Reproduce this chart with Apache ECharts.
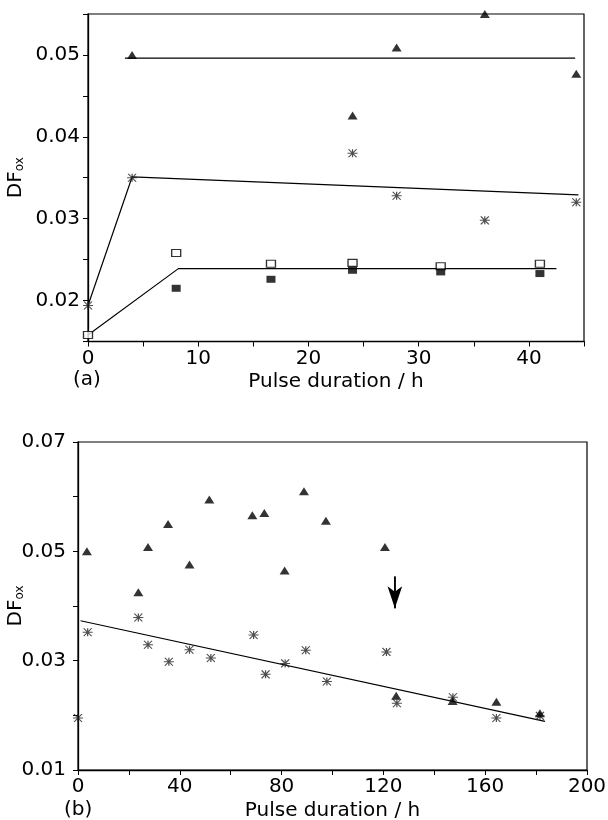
<!DOCTYPE html>
<html>
<head>
<meta charset="utf-8">
<script src="https://cdn.jsdelivr.net/npm/echarts@6/dist/echarts.min.js"></script>
<style>
  html, body { margin: 0; padding: 0; background: #fff; }
  #main { width: 608px; height: 820px; }
</style>
</head>
<body>
<div id="main"></div>
<script>
// ---- panel (a) data ----
var aTriX = [4, 24, 28, 36, 44.3];
var aTriY = [0.0500, 0.0426, 0.0509, 0.0550, 0.0477];
var aStarX = [0, 4, 24, 28, 36, 44.3];
var aStarY = [0.0194, 0.0350, 0.0380, 0.0328, 0.0298, 0.0320];
var aOpenX = [0, 8, 16.6, 24, 32, 41];
var aOpenY = [0.0158, 0.0258, 0.0245, 0.0246, 0.0242, 0.0245];
var aFillX = [8, 16.6, 24, 32, 41];
var aFillY = [0.0215, 0.0226, 0.0237, 0.0235, 0.0233];
// fitted lines (a)
var aTriLineX = [3.35, 44.2];
var aTriLineY = [0.0496, 0.0496];
var aStarLineX = [0, 4, 44.5];
var aStarLineY = [0.0194, 0.0351, 0.0329];
var aSqLineX = [0, 8.2, 42.5];
var aSqLineY = [0.0158, 0.0239, 0.0239];

// ---- panel (b) data ----
var bTriX = [3.5, 23.7, 27.5, 35.4, 43.8, 51.6, 68.5, 73.2, 81.2, 88.8, 97.4, 120.6, 125, 147.2, 164.4, 181.5];
var bTriY = [0.0500, 0.0425, 0.0508, 0.0550, 0.0476, 0.0595, 0.0566, 0.0570, 0.0465, 0.0610, 0.0556, 0.0508, 0.0236, 0.0226, 0.0225, 0.0204];
var bStarX = [0, 3.8, 23.7, 27.5, 35.7, 43.8, 52.2, 69, 73.7, 81.4, 89.5, 97.8, 121.2, 125.3, 147.3, 164.4, 181.5];
var bStarY = [0.0195, 0.0352, 0.0379, 0.0329, 0.0298, 0.0320, 0.0305, 0.0347, 0.0275, 0.0295, 0.0319, 0.0262, 0.0316, 0.0222, 0.0233, 0.0195, 0.0199];
var bLineX = [1, 183.5];
var bLineY = [0.0373, 0.0189];
var bArrowX = [124.5, 124.5];
var bArrowY = [0.0454, 0.0396];

var FONT = 'DejaVu Sans';
var STAR = 'path://M0,4 L10,4 M1,0 L9,8 M9,0 L1,8 M5,0 L5,8';

function zip(xs, ys) {
    var out = [];
    for (var i = 0; i < xs.length; i++) out.push([xs[i], ys[i]]);
    return out;
}

function xAxisOf(idx, min, max, interval, gap) {
    return {
        type: 'value', gridIndex: idx, min: min, max: max, interval: interval,
        name: 'Pulse duration / h', nameLocation: 'middle', nameGap: gap, nameMoveOverlap: false,
        nameTextStyle: { fontFamily: FONT, fontSize: 20, color: '#000' },
        axisLine: { lineStyle: { color: '#000', width: 1.3 } },
        axisTick: { inside: false, length: 5, lineStyle: { color: '#000' } },
        axisLabel: {
            fontFamily: FONT, fontSize: 20, color: '#000', margin: 7,
            formatter: function (v) {
                if (idx === 0) return (Math.round(v) % 10 === 0) ? String(Math.round(v)) : '';
                return (Math.round(v) % 40 === 0) ? String(Math.round(v)) : '';
            }
        },
        splitLine: { show: false }
    };
}

function yAxisOf(idx, min, max, interval, gap, margin) {
    return {
        type: 'value', gridIndex: idx, min: min, max: max, interval: interval,
        name: '{a|DF}{b|ox}', nameLocation: 'middle', nameGap: gap, nameMoveOverlap: false,
        nameTextStyle: {
            color: '#000',
            rich: {
                a: { fontFamily: FONT, fontSize: 20, color: '#000' },
                b: { fontFamily: FONT, fontSize: 12, color: '#000', verticalAlign: 'bottom' }
            }
        },
        axisLine: { lineStyle: { color: '#000', width: 1.3 } },
        axisTick: { inside: false, length: 5, lineStyle: { color: '#000' } },
        axisLabel: {
            fontFamily: FONT, fontSize: 20, color: '#000', margin: margin,
            formatter: function (v) {
                var k = Math.round(v * 1000);
                if (idx === 0) return (k % 10 === 0) ? v.toFixed(2) : '';
                return (k % 20 === 10) ? v.toFixed(2) : '';
            }
        },
        splitLine: { show: false }
    };
}

function lineSeries(idx, xs, ys) {
    return {
        type: 'line', xAxisIndex: idx, yAxisIndex: idx, data: zip(xs, ys),
        symbol: 'none', lineStyle: { color: '#000', width: 1.2 }, z: 2, silent: true
    };
}

function scatterTri(idx, xs, ys) {
    return {
        type: 'scatter', xAxisIndex: idx, yAxisIndex: idx, data: zip(xs, ys),
        symbol: 'triangle', symbolSize: [10, 8], itemStyle: { color: '#000' }, z: 4
    };
}

function scatterStar(idx, xs, ys) {
    return {
        type: 'scatter', xAxisIndex: idx, yAxisIndex: idx, data: zip(xs, ys),
        symbol: STAR, symbolSize: [10, 8],
        itemStyle: { color: 'rgba(0,0,0,0)', borderColor: '#222', borderWidth: 1.1 }, z: 3
    };
}

var myChart = echarts.init(document.getElementById('main'));
var option = {
    backgroundColor: '#fff',
    animation: false,
    grid: [
        { left: 88, top: 14, width: 496, height: 327.5, show: true, borderColor: '#000', borderWidth: 1.2, outerBoundsMode: 'none', containLabel: false },
        { left: 78, top: 442, width: 509, height: 328, show: true, borderColor: '#000', borderWidth: 1.2, outerBoundsMode: 'none', containLabel: false }
    ],
    xAxis: [xAxisOf(0, 0, 45, 5, 30), xAxisOf(1, 0, 200, 20, 31)],
    yAxis: [yAxisOf(0, 0.015, 0.055, 0.005, 62, 8), yAxisOf(1, 0.01, 0.07, 0.01, 52, 12)],
    graphic: [
        { type: 'text', left: 73, top: 370, style: { text: '(a)', fontFamily: FONT, fontSize: 20, fill: '#000' } },
        { type: 'text', left: 64, top: 800, style: { text: '(b)', fontFamily: FONT, fontSize: 20, fill: '#000' } }
    ],
    series: [
        lineSeries(0, aTriLineX, aTriLineY),
        lineSeries(0, aStarLineX, aStarLineY),
        lineSeries(0, aSqLineX, aSqLineY),
        scatterTri(0, aTriX, aTriY),
        scatterStar(0, aStarX, aStarY),
        {
            type: 'scatter', xAxisIndex: 0, yAxisIndex: 0, data: zip(aOpenX, aOpenY),
            symbol: 'rect', symbolSize: [9, 7],
            itemStyle: { color: '#fff', borderColor: '#000', borderWidth: 1.2 }, z: 4
        },
        {
            type: 'scatter', xAxisIndex: 0, yAxisIndex: 0, data: zip(aFillX, aFillY),
            symbol: 'rect', symbolSize: [9, 7], itemStyle: { color: '#000' }, z: 5
        },
        lineSeries(1, bLineX, bLineY),
        scatterStar(1, bStarX, bStarY),
        scatterTri(1, bTriX, bTriY),
        {
            // arrow marking the change at ~125 h
            type: 'line', xAxisIndex: 1, yAxisIndex: 1, data: zip(bArrowX, bArrowY),
            symbol: 'none', lineStyle: { color: '#000', width: 1.5 }, z: 3, silent: true,
            markLine: {
                silent: true, symbol: ['none', 'arrow'], symbolSize: [11, 22],
                label: { show: false },
                lineStyle: { color: '#000', width: 1.5, type: 'solid' },
                data: [[{ coord: [bArrowX[0], bArrowY[0]] }, { coord: [bArrowX[1], bArrowY[1]] }]]
            }
        }
    ]
};
myChart.setOption(option);
</script>
</body>
</html>
